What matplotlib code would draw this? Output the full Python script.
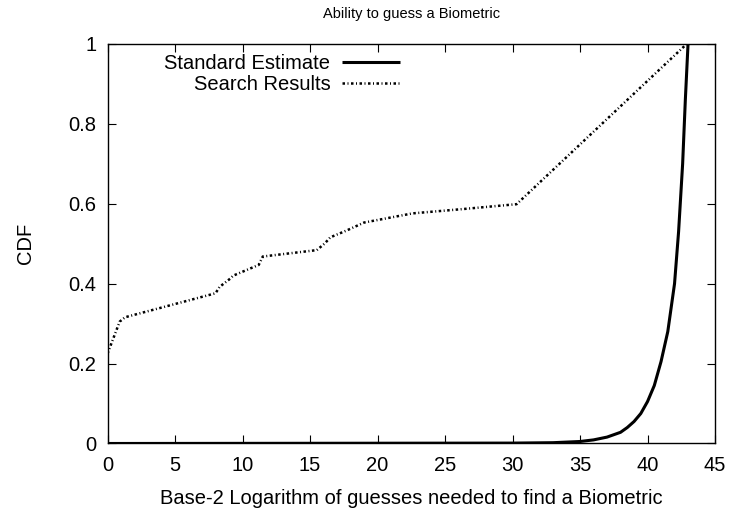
import matplotlib
matplotlib.use('Agg')
import matplotlib.pyplot as plt

# Standard Estimate
std_x = [0, 30, 33, 35, 36, 37, 38, 38.5, 39, 39.5, 40, 40.5, 41, 41.5,
         42, 42.3, 42.6, 42.8, 43]
std_y = [0, 0.001, 0.002, 0.005, 0.009, 0.016, 0.028, 0.040, 0.055, 0.075,
         0.105, 0.145, 0.205, 0.28, 0.40, 0.53, 0.70, 0.86, 1.0]

# Search Results
srch_x = [0, 0.9, 1.3, 8.0, 8.3, 9.1, 9.3, 11.2, 11.5, 15.5, 16.1, 16.5,
          17.7, 19.0, 22.6, 26.4, 30.3, 42.9]
srch_y = [0.225, 0.305, 0.316, 0.376, 0.392, 0.413, 0.42, 0.447, 0.468,
          0.484, 0.501, 0.516, 0.533, 0.553, 0.576, 0.587, 0.599, 1.0]

xticks = [0, 5, 10, 15, 20, 25, 30, 35, 40, 45]
yticks = [0, 0.2, 0.4, 0.6, 0.8, 1]
ytick_labels = ['0', '0.2', '0.4', '0.6', '0.8', '1']

plt.rcParams['font.family'] = ['Liberation Sans', 'DejaVu Sans']

fig = plt.figure(figsize=(7.3, 5.09), dpi=100)
ax = fig.add_axes([0.1473, 0.1287, 0.8322, 0.7849])

ax.plot(std_x, std_y, color='black', linewidth=2.2, label='Standard Estimate',
        solid_capstyle='butt')
ax.plot(srch_x, srch_y, color='black', linewidth=1.8, label='Search Results',
        dashes=(1, 1.0, 0.4, 1.0), dash_capstyle='butt')

ax.set_xlim(0, 45)
ax.set_ylim(0, 1)
ax.set_xticks(xticks)
ax.set_xticklabels([str(t) for t in xticks])
ax.set_yticks(yticks)
ax.set_yticklabels(ytick_labels)
ax.tick_params(direction='in', length=6, width=0.8, top=True, right=True,
               labelsize=14.5)
ax.tick_params(axis='x', pad=9)
ax.tick_params(axis='y', pad=8)
for s in ax.spines.values():
    s.set_linewidth(1.0)

ax.set_title('Ability to guess a Biometric', fontsize=10.5, pad=19)
ax.set_xlabel('Base-2 Logarithm of guesses needed to find a Biometric',
              fontsize=14.5, labelpad=10)
ax.set_ylabel('CDF', fontsize=14.5, labelpad=24)

ax.legend(loc='upper left', bbox_to_anchor=(0.077, 1.0), frameon=False,
          markerfirst=False, fontsize=14.5, handlelength=2.85,
          labelspacing=0.08, handletextpad=0.6, borderaxespad=0.1)

fig.savefig('out.png', dpi=100)
